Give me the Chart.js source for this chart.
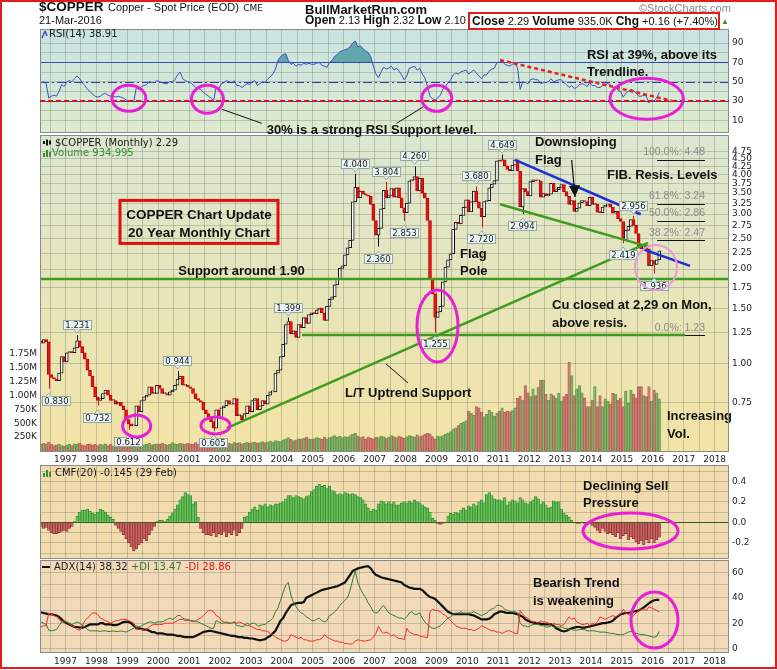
<!DOCTYPE html>
<html>
<head>
<meta charset="utf-8">
<script src="https://cdn.jsdelivr.net/npm/chart.js@4.4.1/dist/chart.umd.min.js"></script>
<style>
  body { margin: 0; width: 777px; height: 670px; position: relative; overflow: hidden; background: #fff; font-family: "Liberation Sans", Arial, sans-serif; color: #111; }
  canvas { position: absolute; left: 0; top: 0; }
  .frame { position: absolute; left: 0; top: 0; width: 773px; height: 665px; border: 2px solid #e41b1b; }
  .hd { position: absolute; white-space: nowrap; line-height: 14px; }
  .hd b { font-size: 12px; }
</style>
</head>
<body>
<canvas id="priceChart" width="777" height="670"></canvas>
<canvas id="cmfChart" width="777" height="670"></canvas>
<canvas id="adxChart" width="777" height="670"></canvas>
<canvas id="rsiChart" width="777" height="670"></canvas>
<div class="frame"></div>
<div class="hd" style="left:39px;top:-1px"><b style="font-size:13.5px">$COPPER</b> <span style="font-size:11px">Copper - Spot Price (EOD)</span> <span style="font-size:9px;font-family:'DejaVu Sans'">CME</span></div>
<div class="hd" style="left:39px;top:13px;font-size:11px">21-Mar-2016</div>
<div class="hd" style="left:305px;top:3px;font-size:13px;font-weight:bold">BullMarketRun.com</div>
<div class="hd" style="left:305px;top:13px;font-size:11px"><b>Open</b> 2.13 <b>High</b> 2.32 <b>Low</b> 2.10</div>
<div class="hd" style="left:468px;top:12px;width:246px;height:14px;border:2px solid #e41b1b;font-size:11px;padding-left:2px;line-height:14px"><b>Close</b> 2.29 <b>Volume</b> 935.0K <b>Chg</b> +0.16 (+7.40%)</div>
<div class="hd" style="left:721px;top:15px;font-size:8px;color:#2a9a2a">▲</div>
<div class="hd" style="left:639px;top:1px;font-size:11px;color:#888">©StockCharts.com</div>
<script>
// monthly bars, first one is March 1996
const startYear = 1996;
const startMonth = 2;
const firstOpen = 1.18;

const closes = [
  1.16, 1.19, 1.17, 0.92, 0.90, 0.89, 0.88, 0.93, 1.05, 1.01,
  1.08, 1.09, 1.08, 1.12, 1.18, 1.13, 1.08, 1.03, 0.95, 0.91, 0.84, 0.78,
  0.76, 0.77, 0.80, 0.82, 0.79, 0.76, 0.76, 0.74, 0.75, 0.73, 0.71, 0.66,
  0.64, 0.63, 0.63, 0.73, 0.70, 0.76, 0.78, 0.79, 0.84, 0.80, 0.80, 0.85,
  0.83, 0.80, 0.80, 0.79, 0.81, 0.82, 0.85, 0.89, 0.91, 0.85, 0.85, 0.84,
  0.83, 0.80, 0.77, 0.76, 0.75, 0.71, 0.69, 0.67, 0.65, 0.62, 0.71, 0.67,
  0.72, 0.73, 0.76, 0.74, 0.74, 0.77, 0.68, 0.68, 0.66, 0.69, 0.73, 0.70,
  0.76, 0.77, 0.71, 0.73, 0.76, 0.74, 0.79, 0.81, 0.81, 0.93, 0.95, 1.05,
  1.15, 1.33, 1.36, 1.24, 1.27, 1.21, 1.33, 1.30, 1.40, 1.34, 1.43, 1.45,
  1.44, 1.48, 1.50, 1.45, 1.37, 1.52, 1.60, 1.63, 1.78, 1.86, 2.01, 2.05,
  2.22, 2.34, 2.47, 3.28, 3.65, 3.38, 3.55, 3.48, 3.45, 3.42, 3.22, 2.86,
  2.57, 2.70, 3.12, 3.57, 3.38, 3.44, 3.62, 3.40, 3.64, 3.38, 3.14, 3.03,
  3.25, 3.83, 3.87, 3.95, 3.56, 3.90, 3.50, 3.37, 2.86, 1.85, 1.67, 1.40,
  1.46, 1.52, 1.82, 2.03, 2.14, 2.24, 2.68, 2.83, 2.79, 2.97, 3.15, 3.33,
  3.05, 3.28, 3.55, 3.28, 3.13, 2.94, 3.29, 3.31, 3.64, 3.74, 3.84, 4.44,
  4.43, 4.47, 4.28, 4.17, 4.12, 4.30, 4.47, 4.12, 3.16, 3.62, 3.54, 3.43,
  3.81, 3.86, 3.83, 3.83, 3.40, 3.49, 3.43, 3.47, 3.76, 3.54, 3.59, 3.65,
  3.73, 3.54, 3.42, 3.22, 3.31, 3.06, 3.13, 3.26, 3.31, 3.29, 3.19, 3.40,
  3.22, 3.23, 3.04, 3.03, 3.16, 3.20, 3.23, 3.16, 3.02, 3.06, 2.90, 2.84,
  2.48, 2.66, 2.74, 2.88, 2.76, 2.60, 2.37, 2.32, 2.36, 2.32, 2.05, 2.13,
  2.07, 2.14, 2.29
];

// millions of contracts
const volumes = [
  0.12, 0.14, 0.13, 0.16, 0.12, 0.10, 0.11, 0.12, 0.10, 0.09,
  0.11, 0.12, 0.10, 0.13, 0.12, 0.14, 0.11, 0.10, 0.12, 0.13, 0.11, 0.12,
  0.10, 0.12, 0.11, 0.13, 0.10, 0.12, 0.09, 0.11, 0.12, 0.10, 0.11, 0.12,
  0.13, 0.11, 0.14, 0.12, 0.10, 0.13, 0.11, 0.12, 0.14, 0.11, 0.12, 0.13,
  0.12, 0.14, 0.13, 0.11, 0.12, 0.15, 0.13, 0.12, 0.14, 0.13, 0.12, 0.14,
  0.13, 0.12, 0.15, 0.13, 0.14, 0.12, 0.13, 0.14, 0.12, 0.15, 0.13, 0.12,
  0.14, 0.13, 0.15, 0.14, 0.13, 0.16, 0.14, 0.15, 0.13, 0.14, 0.16, 0.14,
  0.15, 0.16, 0.14, 0.15, 0.17, 0.15, 0.16, 0.18, 0.16, 0.19, 0.18, 0.17,
  0.20, 0.22, 0.24, 0.21, 0.19, 0.20, 0.22, 0.21, 0.23, 0.25, 0.22, 0.21,
  0.22, 0.24, 0.23, 0.21, 0.25, 0.22, 0.24, 0.26, 0.28, 0.25, 0.27, 0.24,
  0.26, 0.25, 0.28, 0.30, 0.32, 0.27, 0.24, 0.26, 0.22, 0.25, 0.23, 0.22,
  0.25, 0.24, 0.27, 0.26, 0.23, 0.25, 0.28, 0.26, 0.24, 0.27, 0.25, 0.23,
  0.26, 0.28, 0.27, 0.25, 0.29, 0.26, 0.28, 0.30, 0.32, 0.31, 0.26, 0.22,
  0.27, 0.26, 0.28, 0.30, 0.33, 0.35, 0.40, 0.42, 0.46, 0.50, 0.52, 0.55,
  0.72, 0.68, 0.65, 0.80, 0.78, 0.70, 0.62, 0.66, 0.74, 0.70, 0.63, 0.68,
  0.72, 0.78, 0.70, 0.72, 0.71, 0.73, 0.78, 0.95, 0.99, 0.92, 1.18, 1.05,
  0.98, 1.12, 1.00, 1.15, 1.28, 1.28, 1.02, 0.92, 1.03, 1.00, 0.95, 1.04,
  0.90, 0.98, 1.02, 1.60, 1.36, 1.00, 1.12, 1.18, 1.05, 0.96, 0.80, 0.80,
  0.92, 1.16, 0.80, 1.00, 0.80, 0.94, 0.90, 0.85, 1.04, 1.02, 0.92, 0.95,
  0.80, 1.08, 0.86, 1.10, 1.02, 0.96, 1.16, 1.16, 1.00, 0.98, 1.16, 0.90,
  1.10, 1.05, 0.94
];

const rsi = [
  49, 50, 48, 33, 35, 36, 35, 40, 47, 45,
  50, 51, 50, 53, 56, 53, 49, 46, 42, 40, 37, 35,
  34, 35, 37, 38, 36, 35, 35, 34, 35, 34, 33, 31,
  30, 30, 29, 44, 42, 45, 46, 47, 50, 49, 49, 51,
  50, 49, 48, 48, 50, 50, 52, 57, 60, 53, 51, 50,
  49, 47, 44, 43, 42, 39, 37, 35, 33, 30, 45, 43,
  48, 49, 51, 50, 49, 51, 46, 46, 44, 46, 48, 47,
  50, 51, 46, 48, 50, 49, 53, 55, 58, 63, 72, 76,
  78, 79, 72, 68, 69, 66, 68, 67, 69, 68, 69, 68,
  68, 69, 70, 67, 66, 65, 70, 72, 76, 78, 81, 82,
  83, 84, 86, 90, 92, 86, 87, 84, 82, 80, 76, 66,
  58, 54, 60, 65, 63, 64, 66, 62, 64, 61, 57, 52,
  56, 64, 65, 66, 62, 64, 58, 54, 45, 35, 32, 31,
  33, 36, 42, 45, 49, 52, 57, 59, 58, 60, 61, 62,
  58, 60, 62, 59, 56, 53, 57, 57, 61, 63, 64, 70,
  70, 72, 68, 67, 66, 68, 69, 64, 42, 50, 49, 48,
  52, 53, 52, 52, 48, 49, 49, 50, 53, 50, 51, 52,
  52, 49, 47, 44, 46, 43, 44, 47, 48, 47, 45, 49,
  46, 46, 44, 44, 46, 47, 48, 47, 44, 45, 41, 40,
  34, 38, 40, 42, 41, 38, 35, 35, 36, 35, 28, 31,
  30, 33, 38.91
];

const cmf = [
  -0.04, -0.06, -0.05, -0.08, -0.10, -0.11, -0.11, -0.10, -0.09, -0.08,
  -0.09, -0.06, -0.04, 0.01, 0.06, 0.10, 0.12, 0.12, 0.13, 0.11, 0.09, 0.08,
  0.10, 0.13, 0.12, 0.10, 0.07, 0.05, 0.03, -0.03, -0.06, -0.09, -0.12, -0.16,
  -0.20, -0.24, -0.28, -0.26, -0.22, -0.20, -0.16, -0.18, -0.12, -0.08, -0.04, 0.01,
  0.02, 0.02, 0.01, 0.03, 0.06, 0.09, 0.13, 0.17, 0.22, 0.25, 0.29, 0.27,
  0.26, 0.18, 0.20, 0.05, -0.06, -0.10, -0.12, -0.12, -0.13, -0.10, -0.14, -0.11,
  -0.12, -0.09, -0.14, -0.10, -0.12, -0.08, -0.13, -0.10, -0.06, 0.05, 0.06, 0.10,
  0.13, 0.15, 0.12, 0.17, 0.16, 0.18, 0.15, 0.17, 0.16, 0.18, 0.18, 0.19,
  0.20, 0.23, 0.26, 0.26, 0.24, 0.26, 0.25, 0.24, 0.23, 0.25, 0.26, 0.30,
  0.32, 0.35, 0.37, 0.35, 0.36, 0.33, 0.35, 0.31, 0.30, 0.27, 0.28, 0.27,
  0.29, 0.28, 0.27, 0.28, 0.27, 0.25, 0.24, 0.22, 0.18, 0.14, 0.11, 0.13,
  0.12, 0.18, 0.21, 0.20, 0.18, 0.20, 0.18, 0.20, 0.17, 0.17, 0.19, 0.20,
  0.19, 0.21, 0.19, 0.22, 0.20, 0.19, 0.17, 0.15, 0.14, 0.10, 0.04, 0.02,
  -0.01, -0.02, -0.01, 0.00, 0.06, 0.09, 0.08, 0.10, 0.09, 0.12, 0.14, 0.12,
  0.16, 0.15, 0.18, 0.16, 0.20, 0.22, 0.19, 0.27, 0.29, 0.26, 0.23, 0.22,
  0.22, 0.21, 0.24, 0.17, 0.20, 0.22, 0.21, 0.19, 0.24, 0.22, 0.19, 0.18,
  0.20, 0.22, 0.25, 0.23, 0.18, 0.20, 0.17, 0.14, 0.15, 0.21, 0.20, 0.20,
  0.13, 0.09, 0.07, 0.05, 0.02, 0.00, -0.01, -0.01, 0.00, -0.01, -0.02, -0.01,
  -0.03, -0.05, -0.08, -0.10, -0.06, -0.09, -0.11, -0.10, -0.12, -0.14, -0.10, -0.16,
  -0.13, -0.11, -0.17, -0.14, -0.16, -0.19, -0.21, -0.18, -0.22, -0.17, -0.20, -0.16,
  -0.20, -0.17, -0.145
];

const adx = [
  28.5, 28, 27.5, 27, 27, 26.5, 26, 25, 23, 21,
  20, 19, 18, 17, 17, 16.5, 16.5, 17, 18, 19, 19, 19,
  19, 20, 20, 19, 19, 19, 18.5, 18.5, 19, 20, 21, 21,
  21, 20, 18, 16, 16, 15.5, 15, 15, 14, 13, 13, 12,
  12, 12, 11.5, 11, 11, 11, 10.5, 10, 10, 9.5, 9, 9,
  9, 9, 10, 11, 12, 13, 13.5, 14, 14, 13.5, 13, 12.5,
  12, 11.5, 11, 10.5, 10, 10, 9.5, 9, 9, 8.5, 8.5, 8,
  8, 7.5, 7, 6.5, 7, 7.5, 9, 10, 12, 14, 18, 22,
  24, 28, 31, 34, 35, 35.5, 36, 36, 36.5, 40, 41, 42,
  43, 44, 45, 46, 46.5, 47, 47.5, 48, 48.5, 49, 50, 51,
  52, 55, 58, 61, 62, 63, 63.5, 64, 64.5, 64.7, 63, 60,
  58, 57, 56, 55.5, 55, 54.5, 54, 53.5, 53, 52.5, 52, 50,
  49, 48, 47.5, 47, 47, 47, 46, 44, 42, 40.5, 40, 39,
  37, 35, 33, 31, 29, 28, 27, 27, 27, 27, 27, 27,
  27, 26.5, 26, 25, 24, 23, 23, 23, 23.5, 25, 27, 28,
  29, 29, 28.5, 28, 28, 28, 27.5, 27, 26, 25, 23, 22,
  21, 20.5, 20, 20, 19.5, 19.5, 19, 19, 19, 18, 16, 15,
  14, 13.5, 14, 15, 16, 16.5, 17, 17, 16.5, 16.5, 17, 17.5,
  18, 18.5, 19, 19.5, 20, 20, 20.5, 21, 22, 24, 25.5, 27,
  27.5, 28, 28, 28.5, 29, 29.5, 30, 31, 32.5, 34, 35.5, 37,
  38, 38.3, 38.32
];

const plusDI = [
  21, 20, 19, 14.5, 14, 14.5, 15, 18, 21, 21,
  21, 20, 19, 20, 21, 20, 18.5, 17, 15, 14, 14, 14,
  14, 13.5, 14, 14, 13.5, 13.5, 14, 13.5, 13.5, 14, 13.5, 13,
  14, 15, 16, 18, 17, 18, 19, 20, 21, 21, 20, 21,
  21, 21, 22, 23, 24, 23, 24, 26, 26, 24, 23, 23,
  22, 22, 21, 21, 20, 19, 18, 17, 16, 16, 22, 21,
  20, 20, 21, 20, 20, 21, 18, 18, 17, 18, 20, 19,
  20, 20, 18, 18, 19, 19, 21, 22, 24, 29, 32, 38,
  44, 50, 52, 42, 36, 33, 30, 28, 27, 25, 24, 22,
  22, 23, 24, 22, 21, 22, 26, 27, 29, 31, 34, 36,
  38, 40, 46, 54, 61, 52, 47, 43, 40, 36, 33, 29,
  28, 29, 32, 34, 31, 28, 27, 26, 25, 24, 24, 23,
  25, 28, 29, 27, 27, 28, 24, 21, 19, 17, 16, 16,
  17, 18, 20, 22, 24, 25, 27, 28, 28, 29, 28, 28,
  28, 28, 29, 28, 27, 26, 27, 28, 30, 31, 32, 34,
  34, 33, 31, 30, 29, 29, 29, 28, 20, 18, 18, 17,
  18, 19, 19, 19, 18, 18, 17, 17, 18, 17, 17, 17,
  17, 16, 16, 15, 15, 14.5, 14.5, 15, 15, 15, 14, 14,
  14, 14, 13.5, 13, 13, 13, 12.5, 12, 12, 11.5, 11, 11,
  11, 12, 13, 13.5, 13, 12, 11.5, 11, 11, 10.5, 10, 9.5,
  9, 9.5, 13.47
];

const minusDI = [
  17, 18, 18, 28, 27, 26, 25, 23, 21, 22,
  21, 19, 18, 17, 15, 14.5, 18, 22, 24, 26, 28, 28,
  27, 24, 23, 22, 21, 20, 21, 22, 22, 23, 23, 23,
  22, 21, 20, 16, 15, 15, 14.5, 15, 17, 18.5, 19, 19,
  19, 19, 20, 20, 20, 20, 21, 22, 23, 23, 22, 22,
  22, 21, 22, 23, 24, 26, 28, 30, 30, 29, 26, 25,
  22, 21, 20, 20, 20, 21, 20, 21, 20, 19, 18, 18,
  17, 16, 15, 15, 14, 14, 13.5, 12, 11, 9, 8, 7,
  6, 6, 7, 11, 10, 9, 8, 9, 7, 7, 6, 6,
  6, 7, 7, 8, 11, 9, 8, 7, 6, 6, 5, 5,
  4, 4, 3.5, 4, 6, 7, 6.5, 6, 6, 6.5, 7, 9,
  12, 17.5, 14, 12, 13, 12, 10, 11, 9, 8, 8, 7,
  16, 13, 12, 11, 11, 10, 9.5, 9, 8.5, 29, 31, 30,
  30, 29, 27, 26, 24, 22, 20, 18, 17, 16, 16, 16,
  15, 15, 14, 15, 16, 18, 17, 16, 15, 14, 14, 13,
  13, 12, 13, 14, 14, 13, 12, 12, 30, 27, 25, 24,
  22, 21, 21, 20, 22, 21, 21, 20, 18, 20, 19, 19,
  18, 19, 22, 25, 23, 24, 21, 20, 19, 19, 20, 18,
  20, 19, 21, 25, 24, 23, 24, 25, 26, 25, 26, 27,
  31, 28, 27, 25, 26, 28, 30, 31, 31, 30, 33, 32,
  31, 30, 28.86
];

const yearLabels = [1997, 1998, 1999, 2000, 2001, 2002, 2003, 2004, 2005, 2006, 2007,
  2008, 2009, 2010, 2011, 2012, 2013, 2014, 2015, 2016, 2017, 2018];
const priceTicks = [0.75, 1.00, 1.25, 1.50, 1.75, 2.00, 2.25, 2.50, 2.75, 3.00, 3.25,
  3.50, 3.75, 4.00, 4.25, 4.50, 4.75];
const volumeTicks = [0.25, 0.50, 0.75, 1.00, 1.25, 1.50, 1.75];
const rsiTicks = [10, 20, 30, 40, 50, 60, 70, 80, 90];
const rsiLabels = [10, 30, 50, 70, 90];
const cmfTicks = [-0.3, -0.2, -0.1, 0, 0.1, 0.2, 0.3, 0.4, 0.5];
const cmfLabels = [-0.2, 0, 0.2, 0.4];
const adxTicks = [0, 10, 20, 30, 40, 50, 60];
const adxLabels = [0, 20, 40, 60];

// labelled highs and lows: year, month (0 = Jan), price
const extremes = [
  ['0.830', 1996, 5, 0.830, 'low'], ['1.231', 1997, 4, 1.231, 'high'],
  ['0.732', 1998, 0, 0.732, 'low'], ['0.612', 1999, 0, 0.612, 'low'],
  ['0.944', 2000, 7, 0.944, 'high'], ['0.605', 2001, 9, 0.605, 'low'],
  ['1.399', 2004, 2, 1.399, 'high'], ['4.040', 2006, 4, 4.040, 'high'],
  ['2.360', 2007, 1, 2.360, 'low'], ['3.804', 2007, 4, 3.804, 'high'],
  ['2.853', 2007, 11, 2.853, 'low'], ['4.260', 2008, 3, 4.260, 'high'],
  ['1.255', 2008, 11, 1.255, 'low'], ['3.680', 2010, 3, 3.680, 'high'],
  ['2.720', 2010, 5, 2.720, 'low'], ['4.649', 2011, 1, 4.649, 'high'],
  ['2.994', 2011, 9, 2.994, 'low'], ['2.419', 2015, 0, 2.419, 'low'],
  ['2.956', 2015, 4, 2.956, 'high'], ['1.936', 2016, 0, 1.936, 'low']
];
const fibLevels = [['100.0%: 4.48', 4.48], ['61.8%: 3.24', 3.24], ['50.0%: 2.86', 2.86],
  ['38.2%: 2.47', 2.47], ['0.0%: 1.23', 1.23]];

const xMin = 1996.175, xMax = 2018.465;
const months = closes.map((c, i) => startYear + (startMonth + i + 0.5) / 12);
const opens = closes.map((c, i) => i ? closes[i - 1] : firstOpen);
const isUp = closes.map((c, i) => c >= opens[i]);
const gridTimes = yearLabels.flatMap(y => [y - 0.5, y]);

const GREEN = '#3f9c1f', BLUE = '#1f2fd6', MAG = '#e81fd6';
const gridColor = 'rgba(90,95,85,0.28)';
const axisFont = { family: 'DejaVu Sans', size: 9 };
const noteFont = 'bold 13px "Liberation Sans"';
const labelFont = '10px "DejaVu Sans"';

// ---- annotations, in chart values ----
const rsiTrend = { from: [2011.06, 72.4], to: [2016.61, 30.3], color: '#e82020', width: 2.5, dash: [4, 3] };
const rsiPointers = [
  { from: [2002.05, 21.6], to: [2003.35, 6.9], color: '#111', width: 1 },
  { from: [2008.58, 24.1], to: [2007.71, 6.9], color: '#111', width: 1 }
];
const rsiRings = [
  { t: 1999.05, v: 32.8, rx: 17, ry: 13 }, { t: 2001.59, v: 31.8, rx: 16, ry: 14 },
  { t: 2009.01, v: 32.8, rx: 15, ry: 13 }, { t: 2015.80, v: 32.3, rx: 36.7, ry: 20.5 }
];
const rsiNotes = [
  { s: '30% is a strong RSI Support level.', t: 2003.51, v: 0 },
  { s: 'RSI at 39%, above its', t: 2013.87, v: 77.6 },
  { s: 'Trendline.', t: 2013.87, v: 60 }
];

const priceLines = [
  { from: [xMin, 1.86], to: [xMax, 1.86], color: GREEN, width: 2.5 },
  { from: [2004.65, 1.23], to: [2017.04, 1.23], color: GREEN, width: 2.5 },
  { from: [2002.215, 0.6197], to: [2015.845, 2.425], color: GREEN, width: 2.5 },
  { from: [2011.057, 3.225], to: [2015.854, 2.36], color: GREEN, width: 2.5 },
  { from: [2011.542, 4.469], to: [2015.609, 2.996], color: BLUE, width: 2.5 },
  { from: [2015.693, 2.315], to: [2017.203, 2.047], color: BLUE, width: 2.5 },
  { from: [2007.368, 0.995], to: [2008.08, 0.865], color: '#111', width: 1 }
];
const flagArrow = { from: [2013.376, 4.469], to: [2013.483, 3.403] };
const priceRings = [
  { t: 1999.303, v: 0.630, rx: 14, ry: 11 }, { t: 2001.852, v: 0.6325, rx: 14.5, ry: 8.5 },
  { t: 2009.035, v: 1.316, rx: 20.5, ry: 36 },
  { t: 2016.104, v: 2.025, rx: 21, ry: 22.5, color: '#e89ad8', width: 2 }
];
const priceNotes = [
  { s: 'Support around 1.90', t: 2000.649, v: 1.963 },
  { s: 'Downsloping', t: 2012.189, v: 5.102 }, { s: 'Flag', t: 2012.189, v: 4.469 },
  { s: 'FIB. Resis. Levels', t: 2014.518, v: 4.001 },
  { s: 'Flag', t: 2009.763, v: 2.236 }, { s: 'Pole', t: 2009.763, v: 1.963 },
  { s: 'Cu closed at 2,29 on Mon,', t: 2012.739, v: 1.536 },
  { s: 'above resis.', t: 2012.739, v: 1.343 },
  { s: 'L/T Uptrend Support', t: 2006.042, v: 0.802 },
  { s: 'Increasing', t: 2016.459, v: 0.675 }, { s: 'Vol.', t: 2016.459, v: 0.590 }
];
const titleBox = { t: 2001.319, v: 2.831, w: 158, h: 43,
  lines: ['COPPER Chart Update', '20 Year Monthly Chart'] };
const fibStart = 2016.14, fibEnd = 2017.69;

const cmfRing = { t: 2015.279, v: -0.085, rx: 47.5, ry: 18 };
const cmfNotes = [{ s: 'Declining Sell', t: 2013.742, v: 0.354 }, { s: 'Pressure', t: 2013.742, v: 0.185 }];
const adxRing = { t: 2016.055, v: 22.5, rx: 23.5, ry: 28 };
const adxNotes = [{ s: 'Bearish Trend', t: 2012.124, v: 51.3 }, { s: 'is weakening', t: 2012.124, v: 36.9 }];

// ---- drawing helpers ----
function pos(c, t, v, axis) {
  return [c.scales.x.getPixelForValue(t), c.scales[axis || 'y'].getPixelForValue(v)];
}
function fillPanel(c, top, bottom) {
  const { ctx, chartArea: a } = c;
  const g = ctx.createLinearGradient(0, a.top, 0, a.bottom);
  g.addColorStop(0, top);
  g.addColorStop(1, bottom);
  ctx.save();
  ctx.fillStyle = g;
  ctx.fillRect(a.left, a.top, a.width, a.height);
  ctx.restore();
}
function frame(c) {
  const { ctx, chartArea: a } = c;
  ctx.save();
  ctx.strokeStyle = '#8a8a8a';
  ctx.lineWidth = 1;
  ctx.strokeRect(Math.round(a.left) + 0.5, Math.round(a.top) + 0.5, Math.round(a.width) - 1, Math.round(a.height) - 1);
  ctx.restore();
}
function stroke(ctx, p1, p2, color, width, dash) {
  ctx.save();
  ctx.strokeStyle = color;
  ctx.lineWidth = width;
  ctx.setLineDash(dash || []);
  ctx.beginPath();
  ctx.moveTo(p1[0], p1[1]);
  ctx.lineTo(p2[0], p2[1]);
  ctx.stroke();
  ctx.restore();
}
function seg(c, n, axis) {
  stroke(c.ctx, pos(c, n.from[0], n.from[1], axis), pos(c, n.to[0], n.to[1], axis), n.color, n.width, n.dash);
}
function hline(c, v, color, width, dash) {
  const a = c.chartArea, y = Math.round(c.scales.y.getPixelForValue(v)) + (width % 2 ? 0.5 : 0);
  stroke(c.ctx, [a.left, y], [a.right, y], color, width, dash);
}
function ring(c, r, axis) {
  const [x, y] = pos(c, r.t, r.v, axis);
  const ctx = c.ctx;
  ctx.save();
  ctx.strokeStyle = r.color || MAG;
  ctx.lineWidth = r.width || 3;
  ctx.beginPath();
  ctx.ellipse(x, y, r.rx, r.ry, 0, 0, Math.PI * 2);
  ctx.stroke();
  ctx.restore();
}
function write(c, n, axis) {
  const [x, y] = pos(c, n.t, n.v, axis);
  const ctx = c.ctx;
  ctx.save();
  ctx.font = n.font || noteFont;
  ctx.fillStyle = n.color || '#111';
  ctx.textAlign = n.align || 'left';
  ctx.textBaseline = 'middle';
  ctx.fillText(n.s, x, y + (n.dy || 0));
  ctx.restore();
}
function panelLabel(c, parts, x, y) {
  const ctx = c.ctx;
  ctx.save();
  ctx.font = labelFont;
  ctx.textBaseline = 'middle';
  parts.forEach(p => {
    ctx.fillStyle = p[1];
    ctx.fillText(p[0], x, y);
    x += ctx.measureText(p[0]).width;
  });
  ctx.restore();
}
function valueBox(c, s, cx, cy, pointUp) {
  const ctx = c.ctx;
  ctx.save();
  ctx.font = '8.5px "DejaVu Sans"';
  const w = Math.round(ctx.measureText(s).width) + 5, h = 10;
  const x = Math.round(Math.max(cx - w / 2, c.chartArea.left + 2)), top = Math.round(cy - h / 2);
  ctx.fillStyle = '#eaf5f4';
  ctx.strokeStyle = '#8fa8a6';
  ctx.lineWidth = 1;
  ctx.fillRect(x, top, w, h);
  ctx.strokeRect(x + 0.5, top + 0.5, w - 1, h - 1);
  ctx.beginPath();
  const tip = pointUp ? top - 3 : top + h + 3, base = pointUp ? top + 0.5 : top + h - 0.5;
  ctx.moveTo(cx - 3, base);
  ctx.lineTo(cx, tip);
  ctx.lineTo(cx + 3, base);
  ctx.fill();
  ctx.stroke();
  ctx.fillStyle = '#1a1a1a';
  ctx.textAlign = 'center';
  ctx.textBaseline = 'middle';
  ctx.fillText(s, x + w / 2, top + h / 2 + 0.5);
  ctx.restore();
}

function xScale(showLabels, pad) {
  return {
    type: 'linear', min: xMin, max: xMax, offset: false,
    afterBuildTicks: s => { s.ticks = gridTimes.map(v => ({ value: v })); },
    afterFit: s => { s.height = showLabels ? 14 : 0; },
    grid: { color: gridColor, drawTicks: false, offset: false },
    border: { display: false },
    ticks: {
      display: showLabels, autoSkip: false, maxRotation: 0, padding: pad || 2,
      font: axisFont, color: '#222',
      callback: v => yearLabels.includes(v) ? String(v) : ''
    }
  };
}
function yScale(extra, tickValues, fmt) {
  return Object.assign({
    position: 'right',
    afterBuildTicks: s => { s.ticks = tickValues.map(v => ({ value: v })); },
    afterFit: s => { s.width = 48; },
    grid: { color: gridColor, drawTicks: false },
    border: { display: false },
    ticks: { autoSkip: false, padding: 3, font: axisFont, color: '#222', callback: fmt }
  }, extra);
}
const common = {
  responsive: false,
  animation: false,
  plugins: { legend: { display: false }, tooltip: { enabled: false } }
};

// ---- price + volume ----
const priceChart = new Chart(document.getElementById('priceChart'), {
  type: 'bar',
  data: {
    datasets: [{
      label: 'Volume', yAxisID: 'yv', order: 2, grouped: false, barThickness: 2.6,
      data: months.map((t, i) => ({ x: t, y: volumes[i] })),
      backgroundColor: isUp.map(u => u ? 'rgba(118,178,98,0.6)' : 'rgba(214,112,112,0.6)'),
      borderColor: isUp.map(u => u ? 'rgba(80,135,65,0.8)' : 'rgba(170,75,75,0.8)'),
      borderWidth: 0.8
    }, {
      label: '$COPPER', yAxisID: 'y', order: 1, grouped: false, barThickness: 3, minBarLength: 1,
      data: months.map((t, i) => ({ x: t, y: [opens[i], closes[i]] })),
      backgroundColor: isUp.map(u => u ? '#ffffff' : '#e01818'),
      borderColor: isUp.map(u => u ? '#111111' : '#c40000'),
      borderWidth: 1, borderSkipped: false
    }]
  },
  options: Object.assign({}, common, {
    layout: { padding: { left: 0, right: 0, top: 135, bottom: 204 } },
    scales: {
      x: xScale(true, 2),
      y: yScale({ type: 'logarithmic', min: 0.52, max: 5.37 }, priceTicks, v => v.toFixed(2)),
      yv: {
        type: 'linear', position: 'left', min: -0.018, max: 5.7,
        afterBuildTicks: s => { s.ticks = volumeTicks.map(v => ({ value: v })); },
        afterFit: s => { s.width = 40; },
        grid: { display: false, drawTicks: false },
        border: { display: false },
        ticks: {
          autoSkip: false, padding: 3, font: axisFont, color: '#222',
          callback: v => v < 1 ? Math.round(v * 1000) + 'K' : v.toFixed(2) + 'M'
        }
      }
    }
  }),
  plugins: [{
    id: 'pricePanel',
    beforeDraw: c => fillPanel(c, '#dbe7d0', '#f3e3a4'),
    afterDatasetsDraw(c) {
      const ctx = c.ctx, a = c.chartArea;
      ctx.save();
      ctx.beginPath();
      ctx.rect(a.left, a.top, a.width, a.height);
      ctx.clip();
      // wicks to the labelled extremes
      extremes.forEach(e => {
        const i = (e[1] - startYear) * 12 + e[2] - startMonth;
        const body = e[4] === 'high' ? Math.max(opens[i], closes[i]) : Math.min(opens[i], closes[i]);
        const p1 = pos(c, months[i], body), p2 = pos(c, months[i], e[3]);
        stroke(ctx, [Math.round(p1[0]) + 0.5, p1[1]], [Math.round(p1[0]) + 0.5, p2[1]], isUp[i] ? '#111' : '#d01010', 1);
      });
      fibLevels.forEach(f => {
        const p1 = pos(c, fibStart, f[1]), p2 = pos(c, fibEnd, f[1]);
        stroke(ctx, [p1[0], Math.round(p1[1]) + 0.5], [p2[0], Math.round(p1[1]) + 0.5], '#111', 1);
      });
      priceLines.forEach(l => seg(c, l));
      ctx.restore();

      fibLevels.forEach(f => write(c, { s: f[0], t: fibEnd, v: f[1], dy: -7, font: '10.5px "Liberation Sans"', color: '#8c8c8c', align: 'right' }));
      extremes.forEach(e => {
        const i = (e[1] - startYear) * 12 + e[2] - startMonth;
        const [x, y] = pos(c, months[i], e[3]);
        if (e[4] === 'high') valueBox(c, e[0], x, y - 10, false);
        else valueBox(c, e[0], x, y + 12, true);
      });
      priceRings.forEach(r => ring(c, r));

      // arrow from "Downsloping Flag"
      const p1 = pos(c, flagArrow.from[0], flagArrow.from[1]), p2 = pos(c, flagArrow.to[0], flagArrow.to[1]);
      stroke(ctx, p1, p2, '#111', 1.2);
      ctx.save();
      ctx.fillStyle = '#111';
      ctx.beginPath();
      ctx.moveTo(p2[0], p2[1]);
      ctx.lineTo(p2[0] - 6, p2[1] - 11);
      ctx.lineTo(p2[0] + 5, p2[1] - 12);
      ctx.closePath();
      ctx.fill();
      ctx.restore();

      // title box
      const [bx, by] = pos(c, titleBox.t, titleBox.v);
      ctx.save();
      ctx.strokeStyle = '#e01010';
      ctx.lineWidth = 3;
      ctx.strokeRect(bx - titleBox.w / 2, by - titleBox.h / 2, titleBox.w, titleBox.h);
      ctx.font = 'bold 13.5px "Liberation Sans"';
      ctx.fillStyle = '#111';
      ctx.textAlign = 'center';
      ctx.textBaseline = 'middle';
      ctx.fillText(titleBox.lines[0], bx, by - 6.5);
      ctx.fillText(titleBox.lines[1], bx, by + 11.5);
      ctx.restore();

      priceNotes.forEach(n => write(c, n));
    },
    afterDraw(c) {
      frame(c);
      const ctx = c.ctx;
      ctx.save();
      ctx.fillStyle = '#111';
      [[43, 3], [46, 6], [49, 4]].forEach(b => ctx.fillRect(b[0], 139 + (7 - b[1]) / 2, 2, b[1]));
      ctx.fillStyle = '#3c8c3c';
      [[43, 4], [46, 7], [49, 5]].forEach(b => ctx.fillRect(b[0], 157 - b[1], 2, b[1]));
      ctx.restore();
      panelLabel(c, [['$COPPER (Monthly) 2.29', '#1a1a1a']], 55, 143);
      panelLabel(c, [['Volume 934,995', '#3c8c3c']], 52, 153);
    }
  }]
});

// ---- CMF ----
const cmfChart = new Chart(document.getElementById('cmfChart'), {
  type: 'bar',
  data: {
    datasets: [{
      label: 'CMF(20)', grouped: false, barThickness: 2.6,
      data: months.map((t, i) => ({ x: t, y: cmf[i] })),
      backgroundColor: cmf.map(v => v >= 0 ? '#6cc35a' : '#cc6464'),
      borderColor: cmf.map(v => v >= 0 ? '#2f8a2f' : '#8e3434'),
      borderWidth: 0.8
    }]
  },
  options: Object.assign({}, common, {
    layout: { padding: { left: 40, right: 0, top: 465, bottom: 111 } },
    scales: {
      x: xScale(false),
      y: yScale({ type: 'linear', min: -0.358, max: 0.559 }, cmfTicks, v => cmfLabels.includes(v) ? v.toFixed(1) : '')
    }
  }),
  plugins: [{
    id: 'cmfPanel',
    beforeDraw: c => fillPanel(c, '#f2dcae', '#f2dcae'),
    beforeDatasetsDraw: c => hline(c, 0, '#2b5e2b', 1),
    afterDraw(c) {
      frame(c);
      ring(c, cmfRing);
      cmfNotes.forEach(n => write(c, n));
      const ctx = c.ctx;
      ctx.save();
      ctx.fillStyle = '#3c8c3c';
      [[43, 4], [46, 7], [49, 5]].forEach(b => ctx.fillRect(b[0], 477 - b[1], 2, b[1]));
      ctx.restore();
      panelLabel(c, [['CMF(20) -0.145 (29 Feb)', '#1a1a1a']], 55, 473);
    }
  }]
});

// ---- ADX ----
const adxChart = new Chart(document.getElementById('adxChart'), {
  type: 'line',
  data: {
    datasets: [
      { label: '+DI', data: months.map((t, i) => ({ x: t, y: plusDI[i] })), borderColor: '#2f7d2f', borderWidth: 1, pointRadius: 0 },
      { label: '-DI', data: months.map((t, i) => ({ x: t, y: minusDI[i] })), borderColor: '#f22a2a', borderWidth: 1, pointRadius: 0 },
      { label: 'ADX(14)', data: months.map((t, i) => ({ x: t, y: adx[i] })), borderColor: '#111', borderWidth: 2.2, pointRadius: 0 }
    ]
  },
  options: Object.assign({}, common, {
    layout: { padding: { left: 40, right: 0, top: 560, bottom: 3 } },
    scales: {
      x: xScale(true, 3),
      y: yScale({ type: 'linear', min: -3.4, max: 69.6 }, adxTicks, v => adxLabels.includes(v) ? String(v) : '')
    }
  }),
  plugins: [{
    id: 'adxPanel',
    beforeDraw: c => fillPanel(c, '#f2d9b8', '#f2d9b8'),
    afterDraw(c) {
      frame(c);
      ring(c, adxRing);
      adxNotes.forEach(n => write(c, n));
      stroke(c.ctx, [42, 567], [50, 567], '#111', 2);
      panelLabel(c, [['ADX(14) 38.32 ', '#1a1a1a'], ['+DI 13.47 ', '#2f7d2f'], ['-DI 28.86', '#e02020']], 54, 567);
    }
  }]
});

// ---- RSI (top canvas, its notes overlap the price panel) ----
const rsiChart = new Chart(document.getElementById('rsiChart'), {
  type: 'line',
  data: {
    datasets: [{
      label: 'RSI(14)',
      data: months.map((t, i) => ({ x: t, y: rsi[i] })),
      borderColor: '#3a50c4', borderWidth: 1, pointRadius: 0,
      fill: { target: { value: 70 }, above: '#5fa7ab', below: 'rgba(0,0,0,0)' }
    }]
  },
  options: Object.assign({}, common, {
    layout: { padding: { left: 40, right: 0, top: 29, bottom: 537 } },
    scales: {
      x: xScale(false),
      y: yScale({ type: 'linear', min: -3.1, max: 104.5 }, rsiTicks, v => rsiLabels.includes(v) ? String(v) : '')
    }
  }),
  plugins: [{
    id: 'rsiPanel',
    beforeDraw: c => fillPanel(c, '#c8e4e2', '#dfeacd'),
    beforeDatasetsDraw(c) {
      hline(c, 70, '#2b3db0', 1);
      hline(c, 50, '#2b3db0', 1, [9, 3, 2, 3]);
      hline(c, 30, '#2b3db0', 1);
    },
    afterDraw(c) {
      frame(c);
      hline(c, 30, '#e01010', 2, [5, 3]);
      seg(c, rsiTrend);
      rsiRings.forEach(r => ring(c, r));
      rsiPointers.forEach(p => seg(c, p));
      rsiNotes.forEach(n => write(c, n));
      stroke(c.ctx, [42, 38], [45, 31], '#3a50c4', 1.5);
      stroke(c.ctx, [45, 31], [47, 36], '#3a50c4', 1.5);
      panelLabel(c, [['RSI(14) 38.91', '#1a1a1a']], 49, 34);
    }
  }]
});
</script>
</body>
</html>
